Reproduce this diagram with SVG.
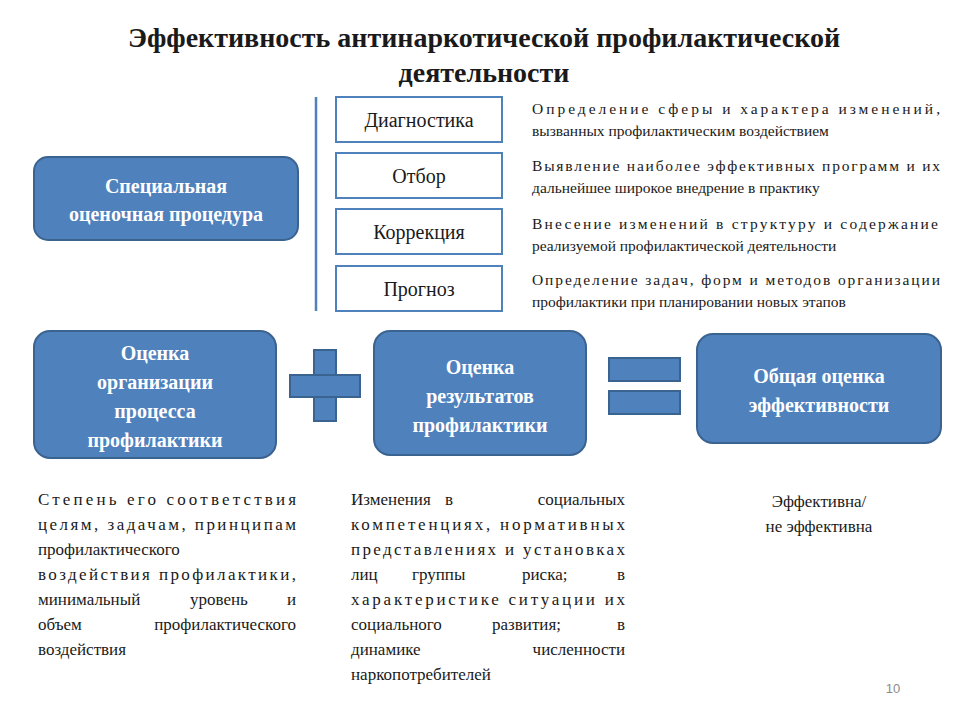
<svg xmlns="http://www.w3.org/2000/svg" width="960" height="720" viewBox="0 0 960 720">
<style>
.b{fill:#4F81BD;stroke:#3A6390;stroke-width:2}
.w{fill:#fff;stroke:#4F81BD;stroke-width:2}
.t{font-family:"Liberation Serif",serif;fill:#1a1a1a}
.wt{font-family:"Liberation Serif",serif;fill:#fff;font-weight:bold;font-size:20px;text-anchor:middle}
.s{font-size:20px;text-anchor:middle}
.d{font-size:15.5px}
.p{font-size:17px}
</style>
<rect width="960" height="720" fill="#fff"/>
<text class="t" x="484" y="47" font-size="28" font-weight="bold" text-anchor="middle" fill="#000">Эффективность антинаркотической профилактической</text>
<text class="t" x="484" y="82" font-size="28" font-weight="bold" text-anchor="middle" fill="#000">деятельности</text>
<g id="connectors">
<line x1="316" y1="97" x2="316" y2="311" stroke="#4F81BD" stroke-width="2.5"/>
</g>
<g id="n-special"><rect class="b" x="34" y="157" width="264" height="83" rx="14"/>
<text class="wt" x="166" y="193">Специальная</text><text class="wt" x="166" y="221">оценочная процедура</text></g>
<g id="n-diag"><rect class="w" x="336" y="97" width="166" height="45"/><text class="t s" x="419" y="127">Диагностика</text></g>
<g id="n-otbor"><rect class="w" x="336" y="153" width="166" height="45"/><text class="t s" x="419" y="183">Отбор</text></g>
<g id="n-korr"><rect class="w" x="336" y="209" width="166" height="45"/><text class="t s" x="419" y="239">Коррекция</text></g>
<g id="n-progn"><rect class="w" x="336" y="266" width="166" height="45"/><text class="t s" x="419" y="296">Прогноз</text></g>
<g id="descs" class="t d">
<text x="532" y="114" textLength="408" lengthAdjust="spacing">Определение сферы и характера изменений,</text>
<text x="532" y="136">вызванных профилактическим воздействием</text>
<text x="532" y="171" textLength="408" lengthAdjust="spacing">Выявление наиболее эффективных программ и их</text>
<text x="532" y="193">дальнейшее широкое внедрение в практику</text>
<text x="532" y="229" textLength="406" lengthAdjust="spacing">Внесение изменений в структуру и содержание</text>
<text x="532" y="251">реализуемой профилактической деятельности</text>
<text x="532" y="285" textLength="408" lengthAdjust="spacing">Определение задач, форм и методов организации</text>
<text x="532" y="307">профилактики при планировании новых этапов</text>
</g>
<g id="n-org"><rect class="b" x="34" y="331" width="242" height="127" rx="16"/>
<text class="wt" x="155" y="360">Оценка</text><text class="wt" x="155" y="389">организации</text><text class="wt" x="155" y="418">процесса</text><text class="wt" x="155" y="447">профилактики</text></g>
<g id="plus"><rect class="b" x="314" y="350" width="22" height="71"/><rect class="b" x="290" y="375" width="70" height="22"/><rect x="315" y="376" width="20" height="20" fill="#4F81BD"/></g>
<g id="n-res"><rect class="b" x="374" y="331" width="212" height="124" rx="16"/>
<text class="wt" x="480" y="374">Оценка</text><text class="wt" x="480" y="403">результатов</text><text class="wt" x="480" y="432">профилактики</text></g>
<g id="equals"><rect class="b" x="609" y="358" width="71" height="23"/><rect class="b" x="609" y="391" width="71" height="23"/></g>
<g id="n-total"><rect class="b" x="697" y="334" width="244" height="109" rx="16"/>
<text class="wt" x="819" y="383">Общая оценка</text><text class="wt" x="819" y="412">эффективности</text></g>
<g id="col1" class="t p">
<text x="38" y="505" textLength="258" lengthAdjust="spacing">Степень его соответствия</text>
<text x="38" y="530" textLength="258" lengthAdjust="spacing">целям, задачам, принципам</text>
<text x="38" y="555">профилактического</text>
<text x="38" y="580" textLength="258" lengthAdjust="spacing">воздействия профилактики,</text>
<text x="38" y="605">минимальный</text><text x="190" y="605">уровень</text><text x="296" y="605" text-anchor="end">и</text>
<text x="38" y="630">объем</text><text x="296" y="630" text-anchor="end">профилактического</text>
<text x="38" y="655">воздействия</text>
</g>
<g id="col2" class="t p">
<text x="351" y="505">Изменения</text><text x="445" y="505">в</text><text x="625" y="505" text-anchor="end">социальных</text>
<text x="351" y="530" textLength="274" lengthAdjust="spacing">компетенциях, нормативных</text>
<text x="351" y="555" textLength="274" lengthAdjust="spacing">представлениях и установках</text>
<text x="351" y="580">лиц</text><text x="412" y="580">группы</text><text x="522" y="580">риска;</text><text x="625" y="580" text-anchor="end">в</text>
<text x="351" y="605" textLength="274" lengthAdjust="spacing">характеристике ситуации их</text>
<text x="351" y="630">социального</text><text x="492" y="630">развития;</text><text x="625" y="630" text-anchor="end">в</text>
<text x="351" y="655">динамике</text><text x="625" y="655" text-anchor="end">численности</text>
<text x="351" y="680">наркопотребителей</text>
</g>
<g id="col3" class="t p" text-anchor="middle">
<text x="819" y="507">Эффективна/</text>
<text x="819" y="532">не эффективна</text>
</g>
<text x="893" y="693" font-family="Liberation Sans,sans-serif" font-size="13" fill="#8a8a8a" text-anchor="middle">10</text>
</svg>
